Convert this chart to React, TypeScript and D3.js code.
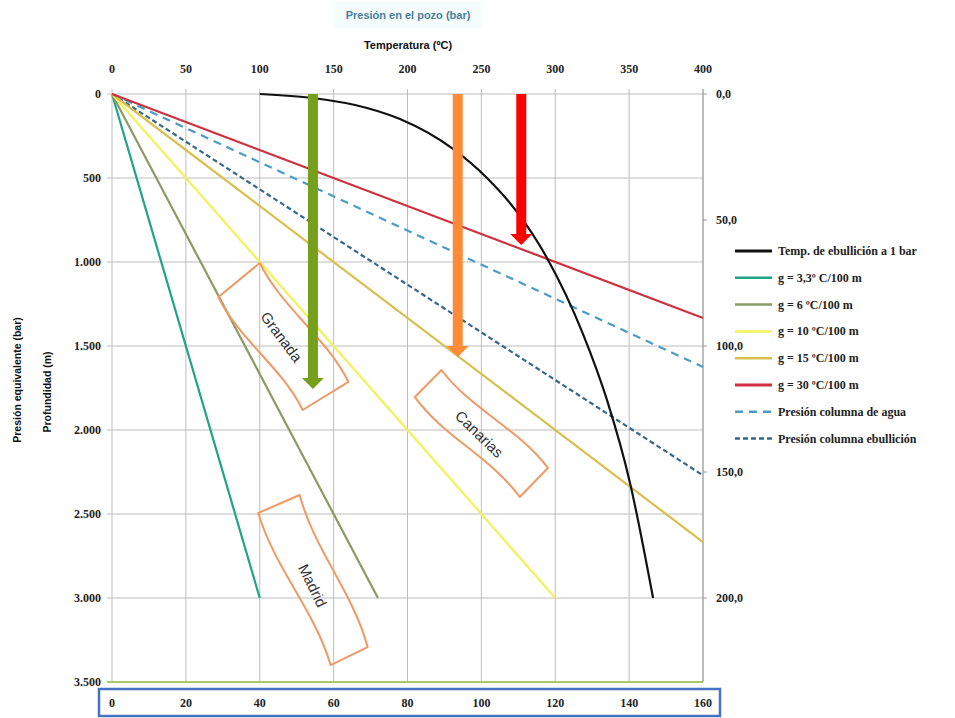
import React from 'react';
import * as d3 from 'd3';

// --- data ---
const tempTicks = [0, 50, 100, 150, 200, 250, 300, 350, 400];
const depthTicks = [0, 500, 1000, 1500, 2000, 2500, 3000, 3500];
const pressureTicks = [0, 50, 100, 150, 200];
const bottomTicks = [0, 20, 40, 60, 80, 100, 120, 140, 160];

// boiling temperature curve (Temp. de ebullición)
const boilTemp = [100, 136, 172.6, 194.9, 230.8, 253.8, 274.1, 294.4, 318.8, 335, 350.6, 366.2];
const boilDepth = [0, 24, 83, 149, 327, 500, 702, 976, 1429, 1821, 2315, 3000];

// geothermal gradient lines: start at origin, end points
const gradLabels = ['g = 3,3º C/100 m', 'g = 6 ºC/100 m', 'g = 10 ºC/100 m', 'g = 15 ºC/100 m', 'g = 30 ºC/100 m'];
const gradColors = ['#22a383', '#8c9a64', '#f2f25a', '#d9bf4e', '#cf2f3e'];
const gradEndTemp = [100, 180, 300, 400, 400];
const gradEndDepth = [3000, 3000, 3000, 2667, 1333];

// pressure columns (dashed)
const columnLabels = ['Presión columna de agua', 'Presión columna ebullición'];
const columnColors = ['#4a9cc6', '#36688c'];
const columnDash = ['8,6', '5,3'];
const columnEndTemp = [400, 400];
const columnEndDepth = [1625, 2270];

// arrows
const arrowTemp = [136, 234, 277];
const arrowDepth = [1756, 1565, 899];
const arrowColors = ['#75a01b', '#ff8a38', '#ff0000'];

// zone annotations: corners [temp, depth]
const zoneNames = ['Granada', 'Canarias', 'Madrid'];
const zoneCorners = [
  [[100, 1006], [160, 1714], [129, 1881], [72, 1208]],
  [[223, 1643], [295, 2226], [276, 2399], [205, 1804]],
  [[127, 2387], [173, 3292], [148, 3399], [99, 2494]],
];
const zoneLabelPos = [[114, 1450], [248, 2030], [135, 2930]];
const zoneAngle = [53, 44, 64];

const W = 955;
const H = 718;

const esLocale = d3.formatLocale({ decimal: ',', thousands: '.', grouping: [3], currency: ['', '€'] });
const fmtDepth = esLocale.format(',');
const fmtPress = esLocale.format(',.1f');

const serif = '"Liberation Serif", "DejaVu Serif", serif';
const sans = '"Liberation Sans", Arial, sans-serif';

const App = () => {
  const x = d3.scaleLinear().domain([0, 400]).range([112, 703]);
  const y = d3.scaleLinear().domain([0, 3500]).range([94, 682]);
  const yRight = d3.scaleLinear().domain([0, 3500 / 15]).range([94, 682]);
  const xBottom = d3.scaleLinear().domain([0, 160]).range([112, 703]);

  const line = d3
    .line<[number, number]>()
    .x(d => x(d[0]))
    .y(d => y(d[1]));
  const curve = d3
    .line<[number, number]>()
    .curve(d3.curveMonotoneX)
    .x(d => x(d[0]))
    .y(d => y(d[1]));

  const boilPts = boilTemp.map((t, i) => [t, boilDepth[i]] as [number, number]);

  // wavy zone outline
  const wavy = (c: number[][]) => {
    const p = c.map(d => [x(d[0]), y(d[1])]);
    const edge = (a: number[], b: number[]) => {
      const dx = b[0] - a[0];
      const dy = b[1] - a[1];
      const len = Math.hypot(dx, dy);
      const nx = -dy / len;
      const ny = dx / len;
      const o = 9;
      const c1 = [a[0] + dx / 3 + nx * o, a[1] + dy / 3 + ny * o];
      const c2 = [a[0] + (2 * dx) / 3 - nx * o, a[1] + (2 * dy) / 3 - ny * o];
      return `C${c1[0]},${c1[1]} ${c2[0]},${c2[1]} ${b[0]},${b[1]}`;
    };
    return (
      `M${p[0][0]},${p[0][1]} ` +
      edge(p[0], p[1]) +
      ` L${p[2][0]},${p[2][1]} ` +
      edge(p[2], p[3]) +
      ' Z'
    );
  };

  const legendItems = [
    { label: 'Temp. de ebullición a 1 bar', color: '#111', width: 3, dash: null as string | null },
    ...gradLabels.map((l, i) => ({ label: l, color: gradColors[i], width: i === 4 ? 3 : 2.5, dash: null as string | null })),
    ...columnLabels.map((l, i) => ({ label: l, color: columnColors[i], width: 2.5, dash: columnDash[i] })),
  ];

  return (
    <svg width={W} height={H} style={{ position: 'absolute', left: 0, top: 0, background: '#fff' }}>
      {/* titles */}
      <rect x={334} y={2} width={148} height={26} fill="#f5fcfc" />
      <text x={408} y={19} textAnchor="middle" fontFamily={sans} fontWeight="bold" fontSize={11} fill="#4a7f9c">
        Presión en el pozo (bar)
      </text>
      <text x={408} y={49} textAnchor="middle" fontFamily={sans} fontWeight="bold" fontSize={11} fill="#111">
        Temperatura (ºC)
      </text>
      <text transform="translate(21,380) rotate(-90)" textAnchor="middle" fontFamily={sans} fontWeight="bold" fontSize={10.5} fill="#111">
        Presión equivalente (bar)
      </text>
      <text transform="translate(51,392) rotate(-90)" textAnchor="middle" fontFamily={sans} fontWeight="bold" fontSize={10.5} fill="#111">
        Profundidad (m)
      </text>

      {/* grid */}
      {tempTicks.map(t => (
        <line key={'gx' + t} x1={x(t)} x2={x(t)} y1={y(0) - 5} y2={y(3500)} stroke="#bdbdbd" strokeWidth={1} />
      ))}
      {depthTicks.map(d => (
        <line
          key={'gy' + d}
          x1={x(0) - 5}
          x2={x(400)}
          y1={y(d)}
          y2={y(d)}
          stroke={d === 3500 ? '#a8c86a' : '#bdbdbd'}
          strokeWidth={d === 3500 ? 2 : 1}
        />
      ))}
      <line x1={x(400)} x2={x(400)} y1={y(0) - 5} y2={y(3500)} stroke="#9a9a9a" strokeWidth={1} />
      {pressureTicks.map(p => (
        <line key={'rt' + p} x1={x(400)} x2={x(400) + 4} y1={yRight(p)} y2={yRight(p)} stroke="#9a9a9a" />
      ))}

      {/* top axis labels */}
      {tempTicks.map(t => (
        <text key={'tx' + t} x={x(t)} y={73} textAnchor="middle" fontFamily={serif} fontWeight="bold" fontSize={12} fill="#222">
          {t}
        </text>
      ))}
      {/* left axis labels */}
      {depthTicks.map(d => (
        <text key={'ly' + d} x={101} y={y(d) + 4} textAnchor="end" fontFamily={serif} fontWeight="bold" fontSize={12} fill="#222">
          {fmtDepth(d)}
        </text>
      ))}
      {/* right axis labels */}
      {pressureTicks.map(p => (
        <text key={'ry' + p} x={716} y={yRight(p) + 4} fontFamily={serif} fontWeight="bold" fontSize={12} fill="#222">
          {fmtPress(p)}
        </text>
      ))}

      {/* bottom boxed axis */}
      <rect x={99} y={689} width={621} height={27} fill="#fff" stroke="#4472c4" strokeWidth={2.5} />
      {bottomTicks.map(b => (
        <text key={'bx' + b} x={xBottom(b)} y={707} textAnchor="middle" fontFamily={serif} fontWeight="bold" fontSize={12} fill="#222">
          {b}
        </text>
      ))}

      {/* dashed pressure columns */}
      {columnLabels.map((l, i) => (
        <path
          key={l}
          d={line([[0, 0], [columnEndTemp[i], columnEndDepth[i]]]) || ''}
          fill="none"
          stroke={columnColors[i]}
          strokeWidth={2.2}
          strokeDasharray={columnDash[i]}
        />
      ))}

      {/* gradient lines */}
      {gradLabels.map((l, i) => (
        <path
          key={l}
          d={line([[0, 0], [gradEndTemp[i], gradEndDepth[i]]]) || ''}
          fill="none"
          stroke={gradColors[i]}
          strokeWidth={2.2}
        />
      ))}

      {/* boiling curve */}
      <path d={curve(boilPts) || ''} fill="none" stroke="#111" strokeWidth={2.2} />

      {/* zones */}
      {zoneNames.map((n, i) => {
        const [lt, ld] = zoneLabelPos[i];
        return (
          <g key={n}>
            <path d={wavy(zoneCorners[i])} fill="none" stroke="#ef9a66" strokeWidth={2} strokeLinejoin="round" />
            <text
              transform={`translate(${x(lt)},${y(ld)}) rotate(${zoneAngle[i]})`}
              textAnchor="middle"
              dominantBaseline="middle"
              fontFamily={sans}
              fontSize={15}
              fill="#333"
            >
              {n}
            </text>
          </g>
        );
      })}

      {/* arrows */}
      {arrowTemp.map((t, i) => {
        const cx = x(t);
        const tip = y(arrowDepth[i]);
        const base = tip - 11;
        return (
          <g key={'ar' + i} fill={arrowColors[i]}>
            <rect x={cx - 5} y={y(0)} width={10} height={base - y(0)} />
            <polygon points={`${cx - 11},${base} ${cx + 11},${base} ${cx},${tip}`} />
          </g>
        );
      })}

      {/* legend */}
      {legendItems.map((it, i) => {
        const ly = 251 + i * 26.8;
        return (
          <g key={it.label}>
            <line x1={735} x2={772} y1={ly} y2={ly} stroke={it.color} strokeWidth={it.width} strokeDasharray={it.dash || undefined} />
            <text x={778} y={ly + 4} fontFamily={serif} fontWeight="bold" fontSize={12} fill="#222">
              {it.label}
            </text>
          </g>
        );
      })}
    </svg>
  );
};

export default App;
